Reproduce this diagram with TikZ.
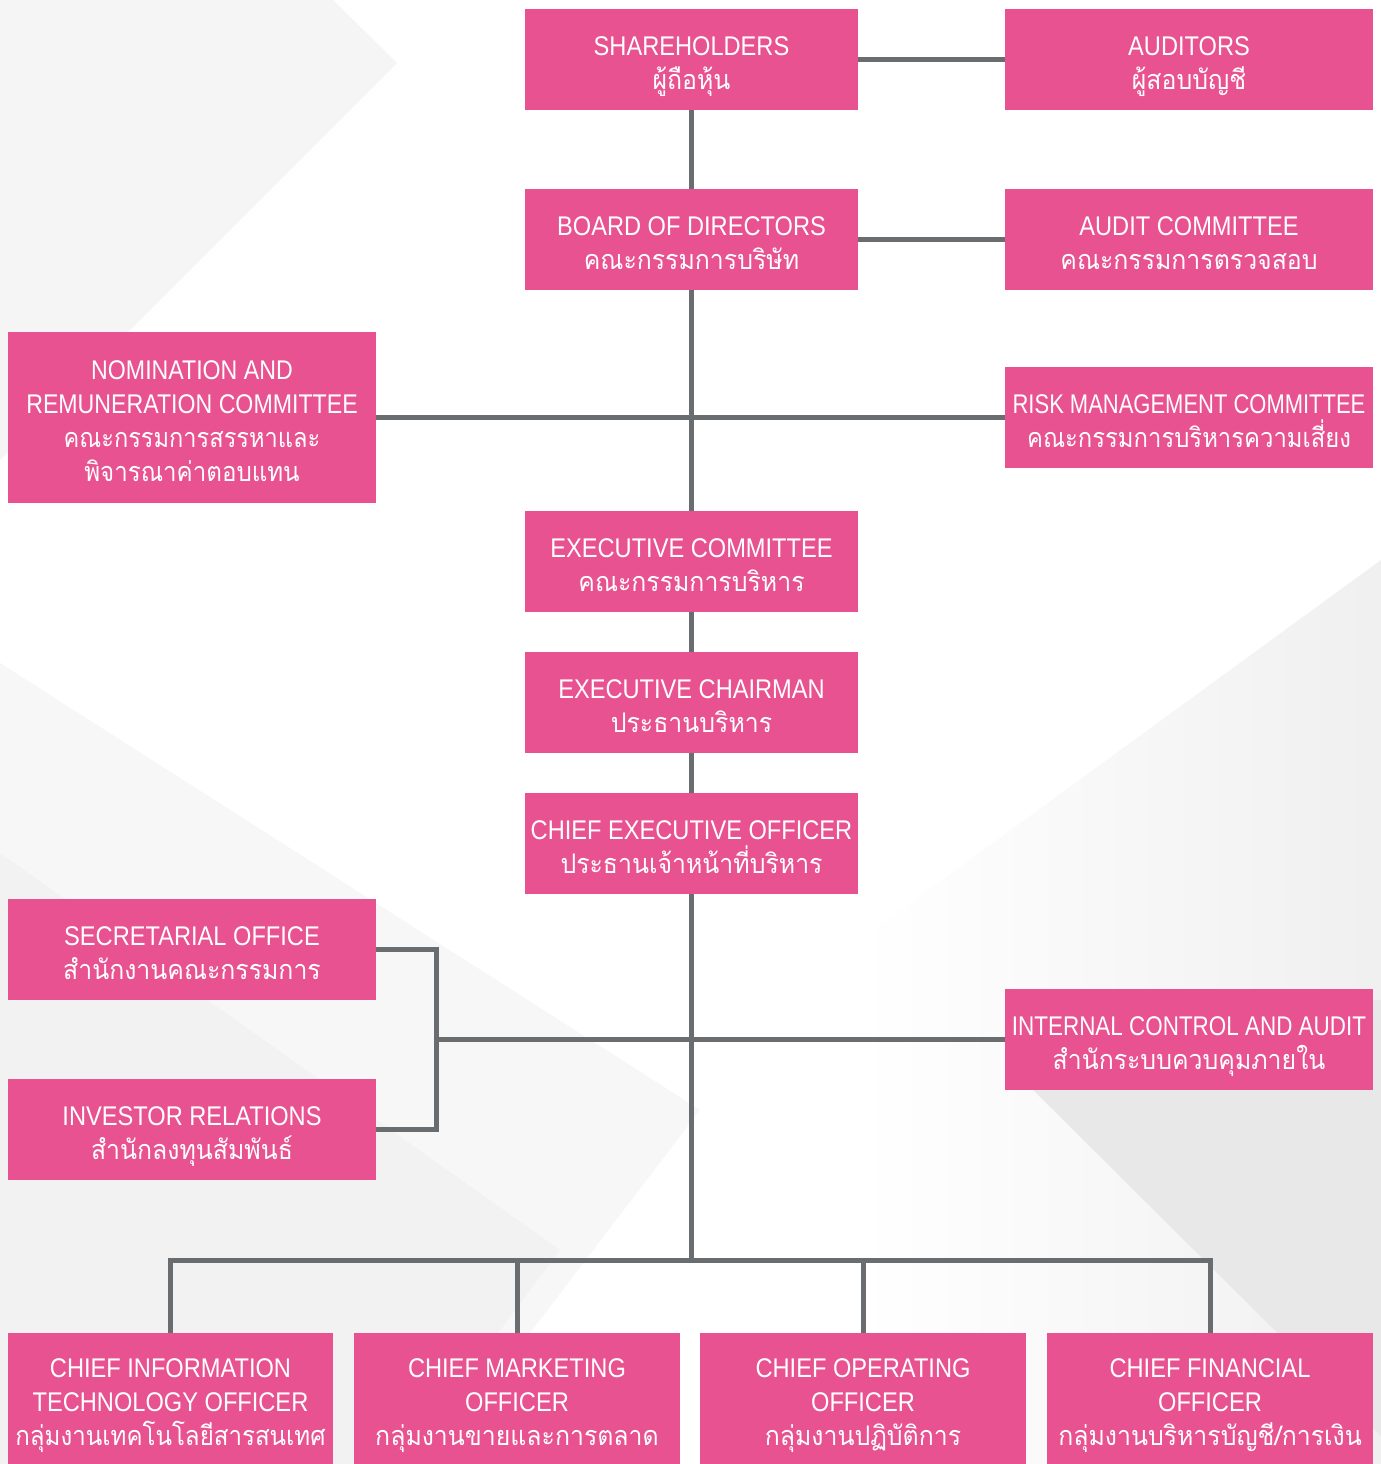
\documentclass[tikz,border=0pt]{standalone}
\usepackage{fontspec}
\setmainfont{Liberation Sans}[FakeStretch=0.875]
\newfontfamily\thai[Script=Thai,FakeStretch=0.92]{Loma}
\definecolor{pinkc}{HTML}{E85290}
\definecolor{linec}{HTML}{6A6D6F}
\newcommand\mytop{\rule{0pt}{35pt}}
\newcommand\mybot{\rule[-10pt]{0pt}{10pt}}
\newcommand\thl[1]{{\thai #1}\mybot}
\newcommand\sx[2]{\scalebox{#1}[1]{#2}}
\begin{document}
\begin{tikzpicture}[x=1pt,y=-1pt,
  box/.style={fill=pinkc,text=white,inner sep=0pt,align=center,
    font=\fontsize{27}{34}\selectfont},
  wbox/.style={box,minimum width=368pt,minimum height=101pt},
  nbox/.style={box,minimum width=333pt,minimum height=101pt},
  bbox/.style={box,minimum width=326pt,minimum height=131pt},
  conn/.style={draw=linec,line width=5pt}]
\useasboundingbox (0,0) rectangle (1381,1464);
% background
\fill[white] (0,0) rectangle (1381,1464);
\fill[black!4] (0,0) -- (333,0) -- (397,63) -- (0,460) -- cycle;
\fill[black!3] (0,663) -- (700,1110) -- (430,1464) -- (0,1464) -- cycle;
\fill[black!5] (0,853) -- (560,1250) -- (400,1464) -- (0,1464) -- cycle;
\shade[left color=white,right color=black!6] (1381,560) -- (860,940) -- (860,1464) -- (1381,1464) -- cycle;
\fill[black!9] (1005,1062) -- (1381,1436) -- (1381,1000) -- (1005,1000) -- cycle;
% nodes
\node[nbox] (sh) at (691.5,59.5) {\mytop SHAREHOLDERS\\\thl{ผู้ถือหุ้น}};
\node[wbox] (aud) at (1189,59.5) {\mytop AUDITORS\\\thl{ผู้สอบบัญชี}};
\node[nbox] (bod) at (691.5,239.5) {\mytop BOARD OF DIRECTORS\\\thl{คณะกรรมการบริษัท}};
\node[wbox] (ac) at (1189,239.5) {\mytop AUDIT COMMITTEE\\\thl{คณะกรรมการตรวจสอบ}};
\node[wbox,minimum height=171pt] (nrc) at (192,417.5) {\mytop\sx{0.98}{NOMINATION AND}\\\sx{0.98}{REMUNERATION COMMITTEE}\\{\thai\sx{0.95}{คณะกรรมการสรรหาและ}}\\\thl{\sx{0.97}{พิจารณาค่าตอบแทน}}};
\node[wbox] (rmc) at (1189,417.5) {\mytop\sx{0.93}{RISK MANAGEMENT COMMITTEE}\\\thl{\sx{0.96}{คณะกรรมการบริหารความเสี่ยง}}};
\node[nbox] (ec) at (691.5,561.5) {\mytop EXECUTIVE COMMITTEE\\\thl{คณะกรรมการบริหาร}};
\node[nbox] (ech) at (691.5,702.5) {\mytop EXECUTIVE CHAIRMAN\\\thl{ประธานบริหาร}};
\node[nbox] (ceo) at (691.5,843.5) {\mytop CHIEF EXECUTIVE OFFICER\\\thl{ประธานเจ้าหน้าที่บริหาร}};
\node[wbox] (sec) at (192,949.5) {\mytop SECRETARIAL OFFICE\\\thl{สำนักงานคณะกรรมการ}};
\node[wbox] (ir) at (192,1129.5) {\mytop INVESTOR RELATIONS\\\thl{สำนักลงทุนสัมพันธ์}};
\node[wbox] (ica) at (1189,1039.5) {\mytop\sx{0.95}{INTERNAL CONTROL AND AUDIT}\\\thl{สำนักระบบควบคุมภายใน}};
\node[bbox,minimum width=325pt] (cio) at (170.5,1398.5) {\mytop CHIEF INFORMATION\\TECHNOLOGY OFFICER\\\thl{\sx{0.97}{กลุ่มงานเทคโนโลยีสารสนเทศ}}};
\node[bbox] (cmo) at (517,1398.5) {\mytop CHIEF MARKETING\\OFFICER\\\thl{กลุ่มงานขายและการตลาด}};
\node[bbox] (coo) at (863,1398.5) {\mytop CHIEF OPERATING\\OFFICER\\\thl{กลุ่มงานปฏิบัติการ}};
\node[bbox] (cfo) at (1210,1398.5) {\mytop CHIEF FINANCIAL\\OFFICER\\\thl{กลุ่มงานบริหารบัญชี/การเงิน}};
\coordinate (bk) at (436,1039.5);
\coordinate (busc) at (691.5,1260);
% connectors
\draw[conn] (sh.east) -- (aud.west);
\draw[conn] (bod.east) -- (ac.west);
\draw[conn] (sh.south) -- (bod.north);
\draw[conn] (bod.south) -- (ec.north);
\draw[conn] (nrc.east) -- (rmc.west);
\draw[conn] (ec.south) -- (ech.north);
\draw[conn] (ech.south) -- (ceo.north);
\draw[conn] (ceo.south) -- (busc);
\draw[conn] (sec.east) -| (bk) |- (ir.east);
\draw[conn] (bk) -- (ica.west);
\draw[conn] (cio.north) |- (busc) -| (cfo.north);
\draw[conn] (cmo.north) -- (cmo.north |- busc);
\draw[conn] (coo.north) -- (coo.north |- busc);
\end{tikzpicture}
\end{document}
